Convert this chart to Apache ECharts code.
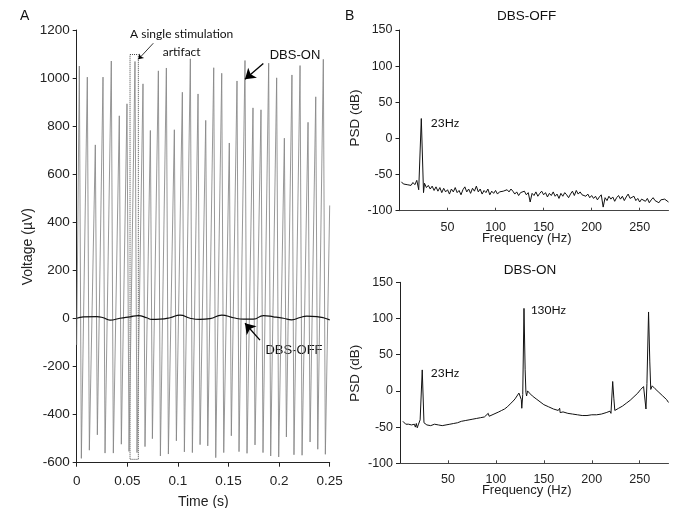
<!DOCTYPE html>
<html><head><meta charset="utf-8">
<script src="https://cdn.jsdelivr.net/npm/echarts@6/dist/echarts.min.js"></script>
<style>html,body{margin:0;padding:0;background:#fff}#c{width:673px;height:508px}</style>
</head><body><div id="c"></div>
<script>
// ---- Panel A: time-domain data ----
const peakTimes = [0.0026,0.0105,0.0184,0.0260,0.0342,0.0421,0.0497,0.0576,0.0655,0.0728,0.0807,0.0886,0.0965,0.1044,0.1123,0.1199,0.1275,0.1354,0.1433,0.1508,0.1584,0.1663,0.1742,0.1821,0.1897,0.1976,0.2052,0.2127,0.2207,0.2286,0.2362,0.2437];
const peakValues = [1050,1004,722,1004,1071,843,893,1069,976,782,1030,1042,785,941,1080,934,824,1043,1020,730,988,1073,876,868,1062,1001,750,1013,1052,816,922,1078];
const troughTimes = [0.0046,0.0125,0.0204,0.0280,0.0362,0.0441,0.0517,0.0596,0.0675,0.0748,0.0827,0.0906,0.0985,0.1064,0.1143,0.1219,0.1295,0.1374,0.1453,0.1528,0.1604,0.1683,0.1762,0.1841,0.1917,0.1996,0.2072,0.2147,0.2227,0.2306,0.2382,0.2457];
const troughValues = [-582,-548,-484,-560,-560,-523,-553,-558,-533,-500,-572,-564,-509,-555,-558,-525,-530,-579,-558,-488,-554,-561,-526,-558,-572,-576,-493,-567,-569,-514,-544,-565];
const onStart = [0, -110];
const onEnd = [0.25, 470];

const offTimes = [0,0.0066,0.0198,0.0263,0.0329,0.0428,0.0527,0.0609,0.0692,0.0741,0.0823,0.0922,0.1021,0.1120,0.1218,0.1317,0.1433,0.1548,0.1647,0.1746,0.1845,0.1944,0.2042,0.2125,0.2207,0.2273,0.2372,0.2438,0.25];
const offValues = [1,7,8,3,-7,1,7,12,3,-4,-3,3,14,1,-4,-1,14,3,-3,-3,12,7,1,-6,4,10,8,3,-6];

const timeTicks = ['0','0.05','0.1','0.15','0.2','0.25'];

// ---- Panel B: PSD data ----
const psdOffFreq = [2,4,6,8,10,12,14,16,18,20,22.7,25,26,28,30,32,34,36,38,40,42,44,46,48,50,52,54,56,58,60,62,64,66,68,70,72,74,76,78,80,82,84,86,88,90,92,94,96,98,100,102,104,106,108,110,112,114,116,118,120,122,124,126,128,130,132,134,136,138,140,142,144,146,148,150,152,154,156,158,160,162,164,166,168,170,172,174,176,178,180,182,184,186,188,190,192,194,196,198,200,202,204,206,208,210,212,214,216,218,220,222,224,226,228,230,232,234,236,238,240,242,244,246,248,250,252,254,256,258,260,262,264,266,268,270,272,274,276,278,280];
const psdOffValue = [-60,-63,-61,-64,-62,-65,-61,-64,-58,-71,27.5,-75,-62,-68,-65,-70,-66,-72,-67,-73,-68,-75,-69,-74,-71,-77,-70,-74,-68,-75,-72,-78,-71,-67,-74,-70,-76,-69,-73,-66,-74,-70,-77,-72,-75,-70,-78,-73,-76,-72,-77,-74,-76,-73,-75,-71,-74,-70,-73,-77,-74,-79,-75,-77,-73,-78,-75,-88,-76,-79,-74,-80,-76,-73,-78,-75,-81,-76,-79,-74,-80,-77,-83,-76,-80,-75,-78,-82,-77,-73,-79,-72,-77,-74,-78,-76,-80,-77,-82,-79,-83,-80,-85,-81,-78,-95,-82,-86,-80,-84,-81,-87,-82,-79,-84,-80,-86,-81,-77,-83,-85,-80,-86,-83,-88,-84,-82,-87,-83,-89,-85,-82,-86,-84,-89,-85,-87,-84,-86,-88];

const psdOnFreq = [3,4,5,6,7,8,9,10,12,14,15,16,17,18,19,20,21,23.2,25,26,28,30,32,34,36,38,40,42,44,46,48,50,52,54,56,58,60,62,64,66,68,70,72,74,76,78,80,82,84,86,88,90,92,93,95,98,100,103,106,109,112,115,118,120,122,124,125.5,126.5,127,128,129.3,130.5,131.3,132,133,135,138,142,146,150,155,160,165,166.5,167,170,175,180,185,190,195,200,205,210,215,219,220,221.8,223,224,228,232,236,240,244,248,251,254,255.5,256.5,257.5,259.2,260.5,261.5,263,266,270,274,278,280];
const psdOnValue = [-42,-44,-43,-46,-45,-47,-46,-48,-47,-49,-46,-50,-45,-51,-47,-46,-40,29,-44,-46,-47,-46,-48,-47,-46,-48,-47,-46,-48,-46,-47,-45,-46,-44,-45,-43,-44,-43,-42,-43,-41,-42,-40,-41,-39,-40,-38,-39,-37,-37,-36,-35,-31,-35,-33,-32,-31,-29,-27,-25,-22,-18,-14,-11,-7,-3,-1,-12,-24,-5,114,30,-2,-7,0,-3,-7,-11,-15,-19,-22,-25,-27,-24,-30,-29,-31,-32,-33,-34,-34,-33,-33,-32,-30,-28,-31,13,-10,-27,-24,-21,-17,-13,-8,-3,2,6,4,-25,10,109,40,2,7,3,-2,-7,-12,-16];

const psdTicks = ['50','100','150','200','250'];

const onPoints = [onStart];
for (let i = 0; i < peakTimes.length; i++) {
  onPoints.push([peakTimes[i], peakValues[i]]);
  onPoints.push([troughTimes[i], troughValues[i]]);
}
onPoints.push(onEnd);
const offPoints = offTimes.map((t, i) => [t, offValues[i]]);
const psdOff = psdOffFreq.map((f, i) => [f, psdOffValue[i]]);
const psdOn = psdOnFreq.map((f, i) => [f, psdOnValue[i]]);

const AX = '#222';
const FONT = 'Liberation Sans, Arial, sans-serif';
const CAL = 'Lato, Open Sans, sans-serif';

const chart = echarts.init(document.getElementById('c'), null, {renderer: 'canvas'});

function yAxisBase(grid, min, max, interval, fs) {
  return {
    gridIndex: grid, type: 'value', min, max, interval,
    axisLine: {show: true, lineStyle: {color: AX, width: 1}},
    axisTick: {show: true, inside: false, length: 4, lineStyle: {color: AX}},
    axisLabel: {color: AX, fontFamily: FONT, fontSize: fs, margin: 7, formatter: (v) => String(v)},
    splitLine: {show: false}
  };
}
function psdXAxis(grid) {
  return {gridIndex: grid, type: 'value', min: 0, max: 280, interval: 50,
    axisLine: {onZero: false, lineStyle: {color: '#444'}},
    axisTick: {show: true, inside: true, length: 3, lineStyle: {color: '#444'}},
    axisLabel: {color: AX, fontFamily: FONT, fontSize: 12.5, margin: 10, showMinLabel: false, showMaxLabel: false,
      formatter: (v) => psdTicks[Math.round(v / 50) - 1] || ''},
    splitLine: {show: false}};
}

chart.setOption({
  animation: false,
  grid: [
    {left: 76.7, top: 30, width: 253, height: 432.7},
    {left: 399.5, top: 30, width: 269, height: 180.7},
    {left: 400, top: 282.3, width: 268.5, height: 181}
  ],
  xAxis: [
    {gridIndex: 0, type: 'value', min: 0, max: 0.25, interval: 0.05,
     axisLine: {onZero: false, lineStyle: {color: AX}},
     axisTick: {show: true, inside: false, length: 4, lineStyle: {color: AX}},
     axisLabel: {color: AX, fontFamily: FONT, fontSize: 13.5, margin: 12,
       formatter: (v) => timeTicks[Math.round(v / 0.05)]},
     splitLine: {show: false}},
    psdXAxis(1),
    psdXAxis(2)
  ],
  yAxis: [
    yAxisBase(0, -600, 1200, 200, 13.5),
    yAxisBase(1, -100, 150, 50, 12.5),
    yAxisBase(2, -100, 150, 50, 12.5)
  ],
  series: [
    {name: 'DBS-ON', type: 'line', xAxisIndex: 0, yAxisIndex: 0, data: onPoints,
     showSymbol: false, lineStyle: {color: '#858585', width: 0.85}, z: 2,
     markArea: {silent: true, itemStyle: {color: 'rgba(0,0,0,0)', borderColor: '#444', borderWidth: 1, borderType: 'dotted'},
       data: [[{coord: [0.0527, 1098]}, {coord: [0.0609, -586]}]]},
     markLine: {silent: true, symbol: ['none', 'arrow'], label: {show: false},
       lineStyle: {color: '#000', width: 1.3, type: 'solid'},
       data: [
         [{coord: [0.1844, 1061], symbol: 'none'}, {coord: [0.1663, 995], symbol: 'arrow', symbolSize: 10}],
         [{coord: [0.0757, 1145], symbol: 'none', lineStyle: {width: 0.8}}, {coord: [0.0609, 1078], symbol: 'arrow', symbolSize: 5, lineStyle: {width: 0.8}}]
       ]}},
    {name: 'DBS-OFF', type: 'line', xAxisIndex: 0, yAxisIndex: 0, data: offPoints, smooth: true,
     showSymbol: false, lineStyle: {color: '#111', width: 1.2}, z: 3,
     markLine: {silent: true, symbol: ['none', 'arrow'], label: {show: false},
       lineStyle: {color: '#000', width: 1.3, type: 'solid'},
       data: [[{coord: [0.1811, -90], symbol: 'none'}, {coord: [0.1663, -20], symbol: 'arrow', symbolSize: 10}]]}},
    {name: 'PSD DBS-OFF', type: 'line', xAxisIndex: 1, yAxisIndex: 1, data: psdOff,
     showSymbol: false, lineStyle: {color: '#111', width: 1}},
    {name: 'PSD DBS-ON', type: 'line', xAxisIndex: 2, yAxisIndex: 2, data: psdOn,
     showSymbol: false, lineStyle: {color: '#111', width: 1}}
  ],
  graphic: [
    {type: 'text', left: 20, top: 9, style: {text: 'A', font: '14px ' + FONT, fill: '#111'}},
    {type: 'text', left: 345, top: 9, style: {text: 'B', font: '14px ' + FONT, fill: '#111'}},
    {type: 'text', x: 181.7, y: 34, style: {text: 'A single stimulation', font: '12px ' + CAL, fill: '#111', align: 'center', verticalAlign: 'middle'}},
    {type: 'text', x: 181.7, y: 51.7, style: {text: 'artifact', font: '12px ' + CAL, fill: '#111', align: 'center', verticalAlign: 'middle'}},
    {type: 'text', x: 295, y: 55, style: {text: 'DBS-ON', font: '13px ' + FONT, fill: '#111', align: 'center', verticalAlign: 'middle'}},
    {type: 'text', x: 294, y: 350, style: {text: 'DBS-OFF', font: '13px ' + FONT, fill: '#111', align: 'center', verticalAlign: 'middle'}},
    {type: 'text', x: 28.3, y: 246.7, rotation: Math.PI / 2, style: {text: 'Voltage (µV)', font: '14px ' + FONT, fill: AX, align: 'center', verticalAlign: 'middle'}},
    {type: 'text', x: 203.3, y: 501.7, style: {text: 'Time (s)', font: '14px ' + FONT, fill: AX, align: 'center', verticalAlign: 'middle'}},
    {type: 'text', x: 526.7, y: 16.7, style: {text: 'DBS-OFF', font: '13.5px ' + FONT, fill: '#111', align: 'center', verticalAlign: 'middle'}},
    {type: 'text', x: 530, y: 270.7, style: {text: 'DBS-ON', font: '13.5px ' + FONT, fill: '#111', align: 'center', verticalAlign: 'middle'}},
    {type: 'text', x: 355, y: 118, rotation: Math.PI / 2, style: {text: 'PSD (dB)', font: '13.5px ' + FONT, fill: AX, align: 'center', verticalAlign: 'middle'}},
    {type: 'text', x: 355, y: 373.3, rotation: Math.PI / 2, style: {text: 'PSD (dB)', font: '13.5px ' + FONT, fill: AX, align: 'center', verticalAlign: 'middle'}},
    {type: 'text', x: 526.7, y: 238.3, style: {text: 'Frequency (Hz)', font: '13px ' + FONT, fill: AX, align: 'center', verticalAlign: 'middle'}},
    {type: 'text', x: 526.7, y: 490, style: {text: 'Frequency (Hz)', font: '13px ' + FONT, fill: AX, align: 'center', verticalAlign: 'middle'}},
    {type: 'text', x: 445, y: 123.3, style: {text: '23Hz', font: '12px ' + CAL, fill: '#111', align: 'center', verticalAlign: 'middle'}},
    {type: 'text', x: 445, y: 373.3, style: {text: '23Hz', font: '12px ' + CAL, fill: '#111', align: 'center', verticalAlign: 'middle'}},
    {type: 'text', x: 548.3, y: 310, style: {text: '130Hz', font: '12px ' + CAL, fill: '#111', align: 'center', verticalAlign: 'middle'}}
  ]
});
</script>
</body></html>
